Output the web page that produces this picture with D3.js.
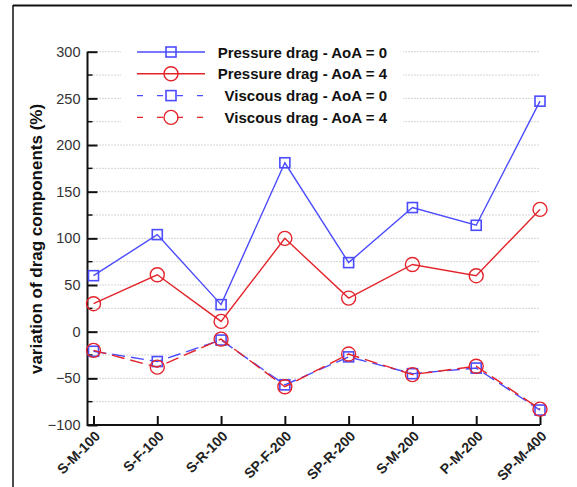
<!DOCTYPE html>
<html>
<head>
<meta charset="utf-8">
<script src="https://cdn.jsdelivr.net/npm/d3@7/dist/d3.min.js"></script>
<style>
    body { margin: 0; background: #fff; }
    svg { display: block; font-family: "Liberation Sans", Arial, sans-serif; }
</style>
</head>
<body>
<svg width="577" height="487"></svg>
<script>
var categories = ["S-M-100", "S-F-100", "S-R-100", "SP-F-200", "SP-R-200", "S-M-200", "P-M-200", "SP-M-400"];
var pressureAoA0 = [60, 104, 29, 181, 74, 133, 114, 247];
var pressureAoA4 = [30, 61, 11, 100, 36, 72, 60, 131];
var viscousAoA0 = [-21, -32, -9, -57, -27, -45, -39, -84];
var viscousAoA4 = [-20, -38, -8, -59, -24, -46, -37, -83];
var yTicks = [-100, -50, 0, 50, 100, 150, 200, 250, 300];
var legendLabels = ["Pressure drag - AoA = 0", "Pressure drag - AoA = 4", "Viscous drag - AoA = 0", "Viscous drag - AoA = 4"];

var blue = "#4b4bff", red = "#e3242b";

var series = [
    {name: legendLabels[0], values: pressureAoA0, color: blue, marker: "square", dash: null},
    {name: legendLabels[1], values: pressureAoA4, color: red, marker: "circle", dash: null},
    {name: legendLabels[2], values: viscousAoA0, color: blue, marker: "square", dash: "13,6"},
    {name: legendLabels[3], values: viscousAoA4, color: red, marker: "circle", dash: "13,6"}
];

var svg = d3.select("svg");
var axisX = 87.5, axisBottom = 425;

var x = d3.scalePoint().domain(categories).range([93.5, 540]);
var y = d3.scaleLinear().domain([-100, 300]).range([425, 51.7]);

// outer frame (only top and left edges show)
svg.append("line").attr("x1", 13).attr("x2", 572).attr("y1", 5.5).attr("y2", 5.5)
    .style("stroke", "#111").style("stroke-width", 2);
svg.append("line").attr("x1", 13).attr("x2", 13).attr("y1", 5).attr("y2", 487)
    .style("stroke", "#111").style("stroke-width", 1.5);

// dotted grid every 25
var gridVals = d3.range(-75, 301, 25);
svg.append("g").selectAll("line").data(gridVals).enter().append("line")
    .attr("x1", axisX).attr("x2", 540)
    .attr("y1", function(d){ return y(d); }).attr("y2", function(d){ return y(d); })
    .style("stroke", "#aaa").style("stroke-width", 1).style("stroke-dasharray", "1,2");

// y axis with inner ticks
var yAxis = d3.axisLeft(y).tickValues(yTicks).tickSize(-10).tickPadding(7).tickFormat(d3.format("d"));
var gy = svg.append("g").attr("transform", "translate(" + axisX + ",0)").call(yAxis);
gy.select(".domain").remove();
gy.selectAll(".tick line").style("stroke", "#111").style("stroke-width", 2);
gy.selectAll(".tick text").attr("x", -7).style("font-size", "14.5px").style("fill", "#333");
gy.selectAll("line.minor").data(d3.range(-75, 300, 50)).enter().append("line")
    .attr("class", "minor")
    .attr("x1", 0).attr("x2", 5)
    .attr("y1", function(d){ return y(d); }).attr("y2", function(d){ return y(d); })
    .style("stroke", "#111").style("stroke-width", 1.5);

// x axis with inner ticks and rotated labels
var xAxis = d3.axisBottom(x).tickSize(-9).tickPadding(0);
var gx = svg.append("g").attr("transform", "translate(0," + axisBottom + ")").call(xAxis);
gx.select(".domain").remove();
gx.selectAll(".tick line").style("stroke", "#111").style("stroke-width", 2);
gx.selectAll(".tick text")
    .attr("text-anchor", "end")
    .attr("dy", null)
    .attr("y", 0)
    .attr("transform", "translate(7,12) rotate(-45)")
    .style("font-size", "14px").style("font-weight", "bold").style("fill", "#222");

// axis lines
svg.append("path")
    .attr("d", "M" + axisX + "," + y(300) + "V" + axisBottom + "H540")
    .style("fill", "none").style("stroke", "#111").style("stroke-width", 2);

// y title
svg.append("text")
    .attr("transform", "translate(42,239) rotate(-90)")
    .attr("text-anchor", "middle")
    .style("font-size", "17px").style("font-weight", "bold").style("fill", "#111")
    .text("variation of drag components (%)");

var line = d3.line()
    .x(function(d, i){ return x(categories[i]); })
    .y(function(d){ return y(d); });

function drawMarker(g, type, color) {
    if (type === "square") {
        g.append("rect").attr("x", -5).attr("y", -5).attr("width", 10).attr("height", 10)
            .style("fill", "none").style("stroke", color).style("stroke-width", 1.6);
    } else {
        g.append("circle").attr("r", 7)
            .style("fill", "none").style("stroke", color).style("stroke-width", 1.4);
    }
}

series.forEach(function(s){
    svg.append("path").datum(s.values)
        .attr("d", line)
        .style("fill", "none").style("stroke", s.color).style("stroke-width", 1.4)
        .style("stroke-dasharray", s.dash);
    s.values.forEach(function(v, i){
        var g = svg.append("g").attr("transform", "translate(" + x(categories[i]) + "," + y(v) + ")");
        drawMarker(g, s.marker, s.color);
    });
});

// legend
var legend = svg.append("g");
legend.append("rect").attr("x", 121).attr("y", 40).attr("width", 282).attr("height", 88)
    .style("fill", "#fff");
series.forEach(function(s, i){
    var ly = 52 + i * 21.8;
    legend.append("line").attr("x1", 137).attr("x2", 205).attr("y1", ly).attr("y2", ly)
        .style("stroke", s.color).style("stroke-width", 1.4)
        .style("stroke-dasharray", s.dash ? "6,14" : null);
    var g = legend.append("g").attr("transform", "translate(171," + ly + ")");
    drawMarker(g, s.marker, s.color);
    legend.append("text").attr("x", 387).attr("y", ly + 5.5)
        .attr("text-anchor", "end")
        .style("font-size", "15px").style("font-weight", "bold").style("fill", "#111")
        .text(s.name);
});
</script>
</body>
</html>
